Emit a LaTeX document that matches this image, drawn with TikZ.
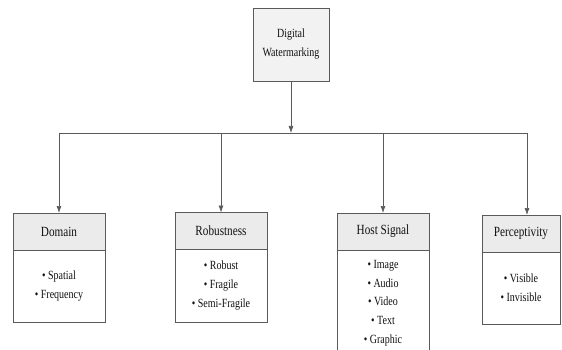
\documentclass[tikz,border=0pt]{standalone}
\usepackage{fontspec}
\setmainfont{Liberation Serif}
\usetikzlibrary{arrows.meta,shadows}
\definecolor{linegray}{HTML}{5A5A5A}
\definecolor{headfill}{HTML}{EBEBEB}
\definecolor{topfill}{HTML}{F2F2F2}
\definecolor{txt}{HTML}{111111}
\newcommand{\tl}[1]{\scalebox{1}[1.25]{#1}}
\begin{document}
\begin{tikzpicture}[x=1pt,y=-1pt,
  boxbase/.style={draw=linegray, line width=0.7pt, inner sep=0pt, outer sep=0pt, text=txt,
    drop shadow={shadow xshift=1.2pt, shadow yshift=-1.2pt, opacity=0.45, fill=gray}},
  topbox/.style={boxbase, fill=topfill, minimum width=76pt, minimum height=73pt, align=center,
    font=\fontsize{10}{19}\selectfont},
  headbox/.style={boxbase, fill=headfill, minimum height=37pt, font=\fontsize{11.2}{13}\selectfont},
  bodybox/.style={boxbase, fill=white, align=center, font=\fontsize{10}{18.7}\selectfont},
  arr/.style={draw=linegray, line width=0.7pt, -{Latex[length=7pt,width=5pt]}},
  ln/.style={draw=linegray, line width=0.7pt}]
\useasboundingbox (0,0) rectangle (562,350);
\clip (0,0) rectangle (562,350);
\fill[white] (0,0) rectangle (562,350);

\node[topbox] (wm) at (291,44.5) {\tl{Digital}\\\tl{Watermarking}};

% Domain
\node[headbox, minimum width=92pt] (dh) at (59,231.5) {\tl{Domain}};
\node[bodybox, minimum width=92pt, minimum height=72pt] (db) at (59,286) {\tl{• Spatial}\\\tl{• Frequency}};
% Robustness
\node[headbox, minimum width=92pt] (rh) at (221,231) {\tl{Robustness}};
\node[bodybox, minimum width=92pt, minimum height=73pt] (rb) at (221,285.5) {\tl{• Robust}\\\tl{• Fragile}\\\tl{• Semi-Fragile}};
% Host Signal
\node[headbox, minimum width=92pt] (hh) at (383,231.5) {\tl{Host Signal}};
\node[bodybox, minimum width=92pt, minimum height=106pt] (hb) at (383,303) {\tl{• Image}\\\tl{• Audio}\\\tl{• Video}\\\tl{• Text}\\\tl{• Graphic}};
% Perceptivity
\node[headbox, minimum width=78pt] (ph) at (521,233.5) {\tl{Perceptivity}};
\node[bodybox, minimum width=78pt, minimum height=72pt] (pb) at (521,288) {\tl{• Visible}\\\tl{• Invisible}};

\coordinate (j) at (291,133);
\coordinate (jd) at (59,133);
\coordinate (jr) at (221,133);
\coordinate (jh) at (383,133);
\coordinate (jp) at (527,133);

\draw[ln] (jd) -- (jp);
\draw[arr] (wm.south) -- (j);
\draw[arr] (jd) -- (dh.north);
\draw[arr] (jr) -- (rh.north);
\draw[arr] (jh) -- (hh.north);
\draw[arr] (jp) -- (jp |- ph.north);
\end{tikzpicture}
\end{document}
